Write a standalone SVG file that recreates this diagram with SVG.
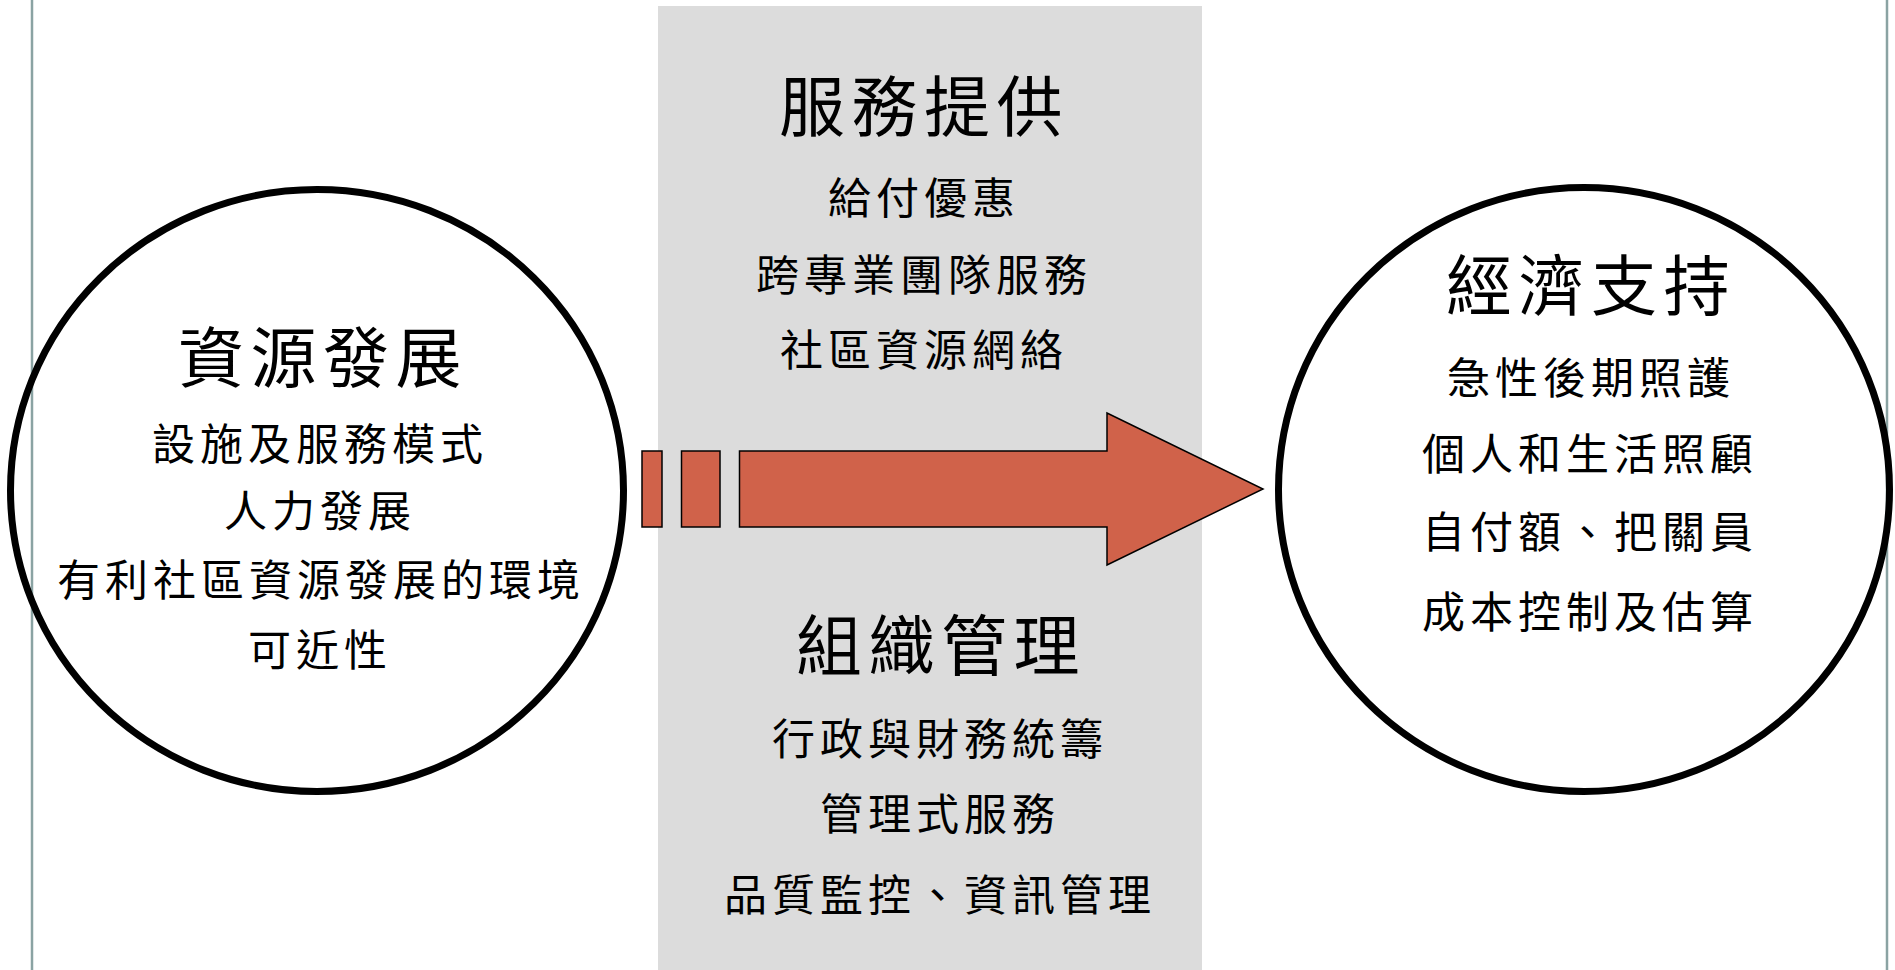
<svg xmlns="http://www.w3.org/2000/svg" width="1895" height="970" viewBox="0 0 1895 970">
<style>
.t{font-family:"Noto Sans CJK TC","Noto Sans CJK SC",sans-serif;fill:#000;text-anchor:middle;dominant-baseline:central}
.h{font-size:66px;letter-spacing:6.5px}
.s{font-size:43px;letter-spacing:5px}
.ring{fill:none;stroke:#000;stroke-width:7}
.edge{stroke:#8aa3a3;stroke-width:2.5}
.blk{fill:#d0624a;stroke:#000;stroke-width:1.5}
</style>
<rect x="0" y="0" width="1895" height="970" fill="#fff"/>
<g id="band">
<rect x="658" y="6" width="544" height="964" fill="#dcdcdc"/>
</g>
<line class="edge" x1="32" y1="0" x2="32" y2="970"/>
<line class="edge" x1="1887" y1="0" x2="1887" y2="970"/>
<g id="connectors">
<rect class="blk" x="642" y="451" width="20" height="76"/>
<rect class="blk" x="681.5" y="451" width="38.5" height="76"/>
<polygon class="blk" points="739.5,451 1107,451 1107,413 1263,489 1107,565 1107,527 739.5,527"/>
</g>
<g id="resource">
<ellipse class="ring" cx="317" cy="490.5" rx="306.5" ry="301"/>
<text class="t h" x="323" y="353">資源發展</text>
<text class="t s" x="320" y="441">設施及服務模式</text>
<text class="t s" x="320" y="508">人力發展</text>
<text class="t s" x="321" y="577">有利社區資源發展的環境</text>
<text class="t s" x="320" y="647">可近性</text>
</g>
<g id="service">
<text class="t h" x="924" y="102">服務提供</text>
<text class="t s" x="924" y="195">給付優惠</text>
<text class="t s" x="924" y="272">跨專業團隊服務</text>
<text class="t s" x="924" y="347">社區資源網絡</text>
</g>
<g id="organization">
<text class="t h" x="941" y="641">組織管理</text>
<text class="t s" x="940" y="736">行政與財務統籌</text>
<text class="t s" x="940" y="811">管理式服務</text>
<text class="t s" x="940" y="892">品質監控、資訊管理</text>
</g>
<g id="economic">
<ellipse class="ring" cx="1584" cy="489.5" rx="305.5" ry="302"/>
<text class="t h" x="1591" y="281">經濟支持</text>
<text class="t s" x="1591" y="375">急性後期照護</text>
<text class="t s" x="1590" y="451">個人和生活照顧</text>
<text class="t s" x="1590" y="529">自付額、把關員</text>
<text class="t s" x="1590" y="609">成本控制及估算</text>
</g>
</svg>
